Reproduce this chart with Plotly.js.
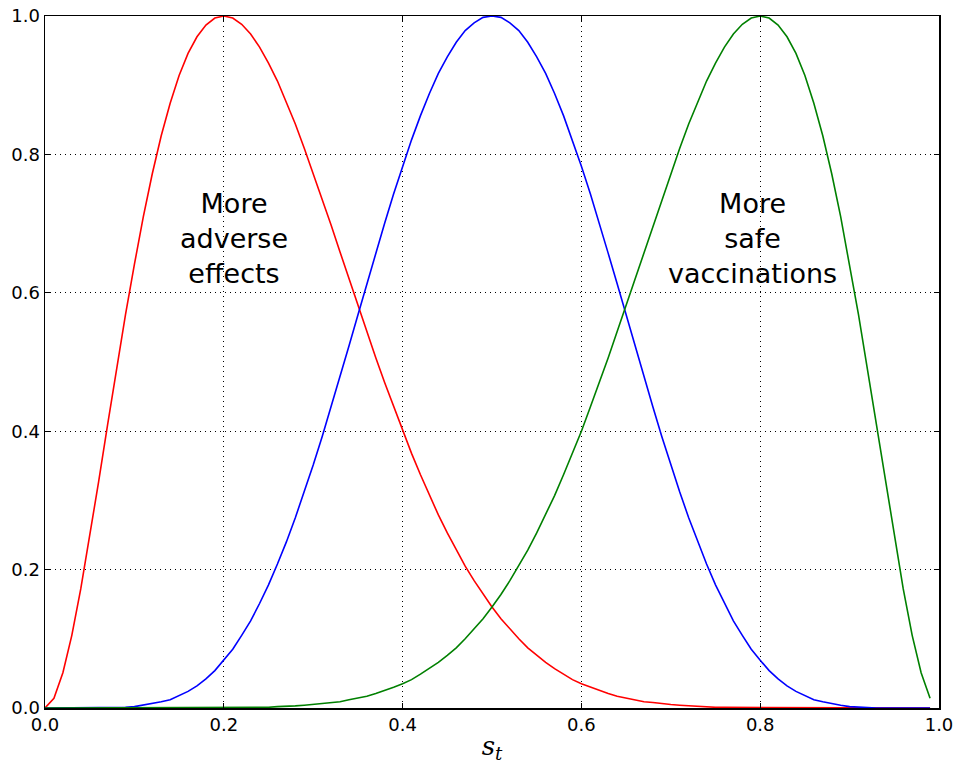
<!DOCTYPE html>
<html>
<head>
<meta charset="utf-8">
<script src="https://cdn.plot.ly/plotly-3.0.1.min.js"></script>
<style>html,body{margin:0;padding:0;background:#fff;}#chart{width:957px;height:764px;}</style>
</head>
<body>
<div id="chart"></div>
<script>
const st = [0.00,0.01,0.02,0.03,0.04,0.05,0.06,0.07,0.08,0.09,
0.10,0.11,0.12,0.13,0.14,0.15,0.16,0.17,0.18,0.19,
0.20,0.21,0.22,0.23,0.24,0.25,0.26,0.27,0.28,0.29,
0.30,0.31,0.32,0.33,0.34,0.35,0.36,0.37,0.38,0.39,
0.40,0.41,0.42,0.43,0.44,0.45,0.46,0.47,0.48,0.49,
0.50,0.51,0.52,0.53,0.54,0.55,0.56,0.57,0.58,0.59,
0.60,0.61,0.62,0.63,0.64,0.65,0.66,0.67,0.68,0.69,
0.70,0.71,0.72,0.73,0.74,0.75,0.76,0.77,0.78,0.79,
0.80,0.81,0.82,0.83,0.84,0.85,0.86,0.87,0.88,0.89,
0.90,0.91,0.92,0.93,0.94,0.95,0.96,0.97,0.98,0.99];

const adverse = [0,0.014,0.051,0.105,0.172,0.247,0.327,0.409,0.489,0.568,
0.641,0.710,0.772,0.827,0.874,0.914,0.946,0.970,0.987,0.997,
1.000,0.997,0.988,0.974,0.955,0.932,0.906,0.876,0.844,0.809,
0.773,0.736,0.698,0.659,0.620,0.582,0.544,0.506,0.470,0.435,
0.400,0.368,0.337,0.307,0.279,0.253,0.228,0.205,0.184,0.164,
0.146,0.129,0.114,0.100,0.087,0.076,0.066,0.057,0.049,0.041,
0.035,0.030,0.025,0.021,0.017,0.014,0.012,0.009,0.008,0.006,
0.005,0.004,0.003,0.002,0.002,0.001,0.001,0.001,0,0,
0,0,0,0,0,0,0,0,0,0,
0,0,0,0,0,0,0,0,0,0];

const middle = [0,0,0,0,0,0,0,0,0.001,0.001,
0.002,0.004,0.006,0.009,0.012,0.018,0.024,0.032,0.042,0.054,
0.069,0.085,0.105,0.126,0.151,0.178,0.208,0.240,0.275,0.312,
0.351,0.392,0.435,0.479,0.523,0.568,0.613,0.657,0.701,0.743,
0.783,0.821,0.856,0.888,0.917,0.941,0.962,0.979,0.990,0.998,
1.000,0.998,0.990,0.979,0.962,0.941,0.917,0.888,0.856,0.821,
0.783,0.743,0.701,0.657,0.613,0.568,0.523,0.479,0.435,0.392,
0.351,0.312,0.275,0.240,0.208,0.178,0.151,0.126,0.105,0.085,
0.069,0.054,0.042,0.032,0.024,0.018,0.012,0.009,0.006,0.004,
0.002,0.001,0.001,0,0,0,0,0,0,0];

const safe = [0,0,0,0,0,0,0,0,0,0,
0,0,0,0,0,0,0,0,0,0,
0,0,0,0.001,0.001,0.001,0.002,0.002,0.003,0.004,
0.005,0.006,0.008,0.009,0.012,0.014,0.017,0.021,0.025,0.030,
0.035,0.041,0.049,0.057,0.066,0.076,0.087,0.100,0.114,0.129,
0.146,0.164,0.184,0.205,0.228,0.253,0.279,0.307,0.337,0.368,
0.400,0.435,0.470,0.506,0.544,0.582,0.620,0.659,0.698,0.736,
0.773,0.809,0.844,0.876,0.906,0.932,0.955,0.974,0.988,0.997,
1.000,0.997,0.987,0.970,0.946,0.914,0.874,0.827,0.772,0.710,
0.641,0.568,0.489,0.409,0.327,0.247,0.172,0.105,0.051,0.014];

const tickVals = [0,0.2,0.4,0.6,0.8,1.0];
const tickText = ['0.0','0.2','0.4','0.6','0.8','1.0'];
const labelLeft = 'More<br>adverse<br>effects';
const labelRight = 'More<br>safe<br>vaccinations';

const traces = [
  {x: st, y: adverse, mode: 'lines', line: {color: '#ff0000', width: 1.6}},
  {x: st, y: middle, mode: 'lines', line: {color: '#0000ff', width: 1.6}},
  {x: st, y: safe, mode: 'lines', line: {color: '#008000', width: 1.6}}
];

const axisCommon = {
  range: [0, 1],
  tickvals: tickVals,
  ticktext: tickText,
  showline: true, mirror: 'ticks', linecolor: '#000', linewidth: 1.5,
  ticks: 'inside', ticklen: 5, tickwidth: 1, tickcolor: '#000',
  showgrid: true, gridcolor: '#000', gridwidth: 1, griddash: '1px,4px',
  zeroline: false,
  tickfont: {family: 'DejaVu Sans', size: 18, color: '#000'}
};

const layout = {
  width: 957, height: 764,
  margin: {l: 45, r: 18, t: 16, b: 56},
  paper_bgcolor: '#fff', plot_bgcolor: '#fff',
  showlegend: false,
  xaxis: Object.assign({}, axisCommon, {
    title: {text: '<i>s</i><sub><i>t</i></sub>', font: {family: 'DejaVu Serif', size: 26, color: '#000'}, standoff: 4}
  }),
  yaxis: Object.assign({}, axisCommon),
  annotations: [
    {x: 0.211, y: 0.755, xref: 'x', yref: 'y', text: labelLeft, showarrow: false, align: 'center', yanchor: 'top',
     font: {family: 'DejaVu Sans', size: 27, color: '#000'}},
    {x: 0.791, y: 0.755, xref: 'x', yref: 'y', text: labelRight, showarrow: false, align: 'center', yanchor: 'top',
     font: {family: 'DejaVu Sans', size: 27, color: '#000'}}
  ]
};

Plotly.newPlot('chart', traces, layout, {displayModeBar: false, staticPlot: true});
</script>
</body>
</html>
